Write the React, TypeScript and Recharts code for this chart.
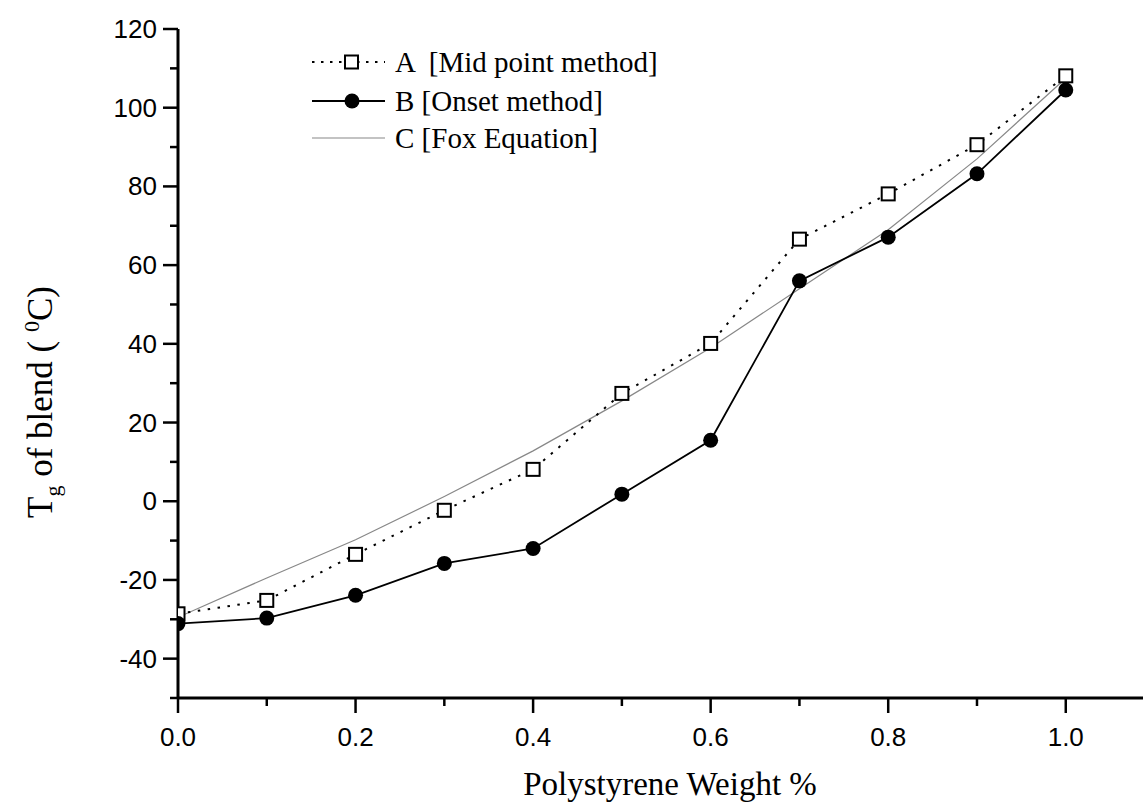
import React from 'react';
import { LineChart, Line, XAxis, YAxis } from 'recharts';

// polystyrene weight fraction
const weights = [0, 0.1, 0.2, 0.3, 0.4, 0.5, 0.6, 0.7, 0.8, 0.9, 1.0];
// Tg values (deg C)
const midPoint = [-28.6, -25.2, -13.5, -2.3, 8.1, 27.4, 40.1, 66.6, 78.1, 90.6, 108.1];
const onset = [-31.1, -29.7, -23.9, -15.8, -12.0, 1.8, 15.5, 56.0, 67.1, 83.2, 104.5];
const fox = [-29.5, -19.5, -9.8, 1.2, 12.8, 25.5, 39.0, 54.0, 69.0, 87.0, 107.5];

const xTicks = [0, 0.1, 0.2, 0.3, 0.4, 0.5, 0.6, 0.7, 0.8, 0.9, 1.0];
const yTicks = [-50, -40, -30, -20, -10, 0, 10, 20, 30, 40, 50, 60, 70, 80, 90, 100, 110, 120];

const legendItems = ['A  [Mid point method]', 'B [Onset method]', 'C [Fox Equation]'];

const data = weights.map((w, i) => ({ w, a: midPoint[i], b: onset[i], c: fox[i] }));

const sans = '"Liberation Sans", Arial, sans-serif';
const serif = '"Liberation Serif", "Times New Roman", serif';

const XTick = (props: any) => {
  const { x, y, payload } = props;
  const major = Math.round(payload.value * 10) % 2 === 0;
  return (
    <g>
      <line x1={x} x2={x} y1={y} y2={y + (major ? 15 : 8)} stroke="#000" strokeWidth={2.5} />
      {major && (
        <text x={x} y={y + 48} textAnchor="middle" fontFamily={sans} fontSize={26} fill="#000">
          {payload.value.toFixed(1)}
        </text>
      )}
    </g>
  );
};

const YTick = (props: any) => {
  const { x, y, payload } = props;
  const major = payload.value % 20 === 0 && payload.value !== -50;
  return (
    <g>
      <line x1={x} x2={x - (major ? 15 : 8)} y1={y} y2={y} stroke="#000" strokeWidth={2.5} />
      {major && (
        <text x={x - 21} y={y} textAnchor="end" dominantBaseline="central" fontFamily={sans} fontSize={26} fill="#000">
          {payload.value}
        </text>
      )}
    </g>
  );
};

const SquareDot = (props: any) => {
  const { cx, cy, index } = props;
  if (cx == null || cy == null) return null;
  return <rect key={`sq-${index}`} x={cx - 6.5} y={cy - 6.5} width={13} height={13} fill="#fff" stroke="#000" strokeWidth={2} />;
};

const CircleDot = (props: any) => {
  const { cx, cy, index } = props;
  if (cx == null || cy == null) return null;
  return <circle key={`ci-${index}`} cx={cx} cy={cy} r={7.5} fill="#000" />;
};

const Overlay = () => (
  <svg width={1143} height={805} style={{ position: 'absolute', left: 0, top: 0, pointerEvents: 'none' }}>
    {/* legend */}
    {legendItems.map((label, i) => {
      const y = [62, 101, 138][i];
      return (
        <g key={label}>
          {i === 0 && (
            <>
              <line x1={312} x2={385} y1={y} y2={y} stroke="#000" strokeWidth={2} strokeDasharray="2.5 6.5" />
              <rect x={345} y={y - 6.5} width={13} height={13} fill="#fff" stroke="#000" strokeWidth={2} />
            </>
          )}
          {i === 1 && (
            <>
              <line x1={312} x2={385} y1={y} y2={y} stroke="#000" strokeWidth={2} />
              <circle cx={352} cy={y} r={7.5} fill="#000" />
            </>
          )}
          {i === 2 && <line x1={312} x2={385} y1={y} y2={y} stroke="#888" strokeWidth={1.2} />}
          <text x={395} y={y} dominantBaseline="central" fontFamily={serif} fontSize={29} fill="#000" style={{ whiteSpace: 'pre' }}>
            {label}
          </text>
        </g>
      );
    })}
    {/* axis titles */}
    <text x={670} y={795} textAnchor="middle" fontFamily={serif} fontSize={33} fill="#000">
      Polystyrene Weight %
    </text>
    <text transform="translate(52,402) rotate(-90)" textAnchor="middle" fontFamily={serif} fontSize={35} fill="#000">
      T<tspan fontSize={22} dy={8}>g</tspan>
      <tspan dy={-8}> of blend (  </tspan>
      <tspan fontSize={22} dy={-13}>0</tspan>
      <tspan dy={13}>C)</tspan>
    </text>
  </svg>
);

export default function App() {
  return (
    <div style={{ position: 'absolute', left: 0, top: 0, width: 1143, height: 805, background: '#fff' }}>
      <LineChart width={1143} height={805} data={data} margin={{ top: 29, right: 0, bottom: 0, left: 0 }}>
        <XAxis
          type="number"
          dataKey="w"
          domain={[0, 1.087]}
          ticks={xTicks}
          allowDataOverflow
          height={107}
          tickSize={0}
          tickMargin={0}
          tickLine={false}
          axisLine={{ stroke: '#000', strokeWidth: 3 }}
          tick={<XTick />}
          interval={0}
        />
        <YAxis
          type="number"
          domain={[-50, 120]}
          ticks={yTicks}
          width={178}
          tickSize={0}
          tickMargin={0}
          tickLine={false}
          axisLine={{ stroke: '#000', strokeWidth: 3 }}
          tick={<YTick />}
          interval={0}
        />
        <Line dataKey="c" stroke="#888" strokeWidth={1.2} dot={false} isAnimationActive={false} />
        <Line dataKey="a" stroke="#000" strokeWidth={2} strokeDasharray="2.5 7.5" dot={<SquareDot />} isAnimationActive={false} />
        <Line dataKey="b" stroke="#000" strokeWidth={1.8} dot={<CircleDot />} isAnimationActive={false} />
      </LineChart>
      <Overlay />
    </div>
  );
}
